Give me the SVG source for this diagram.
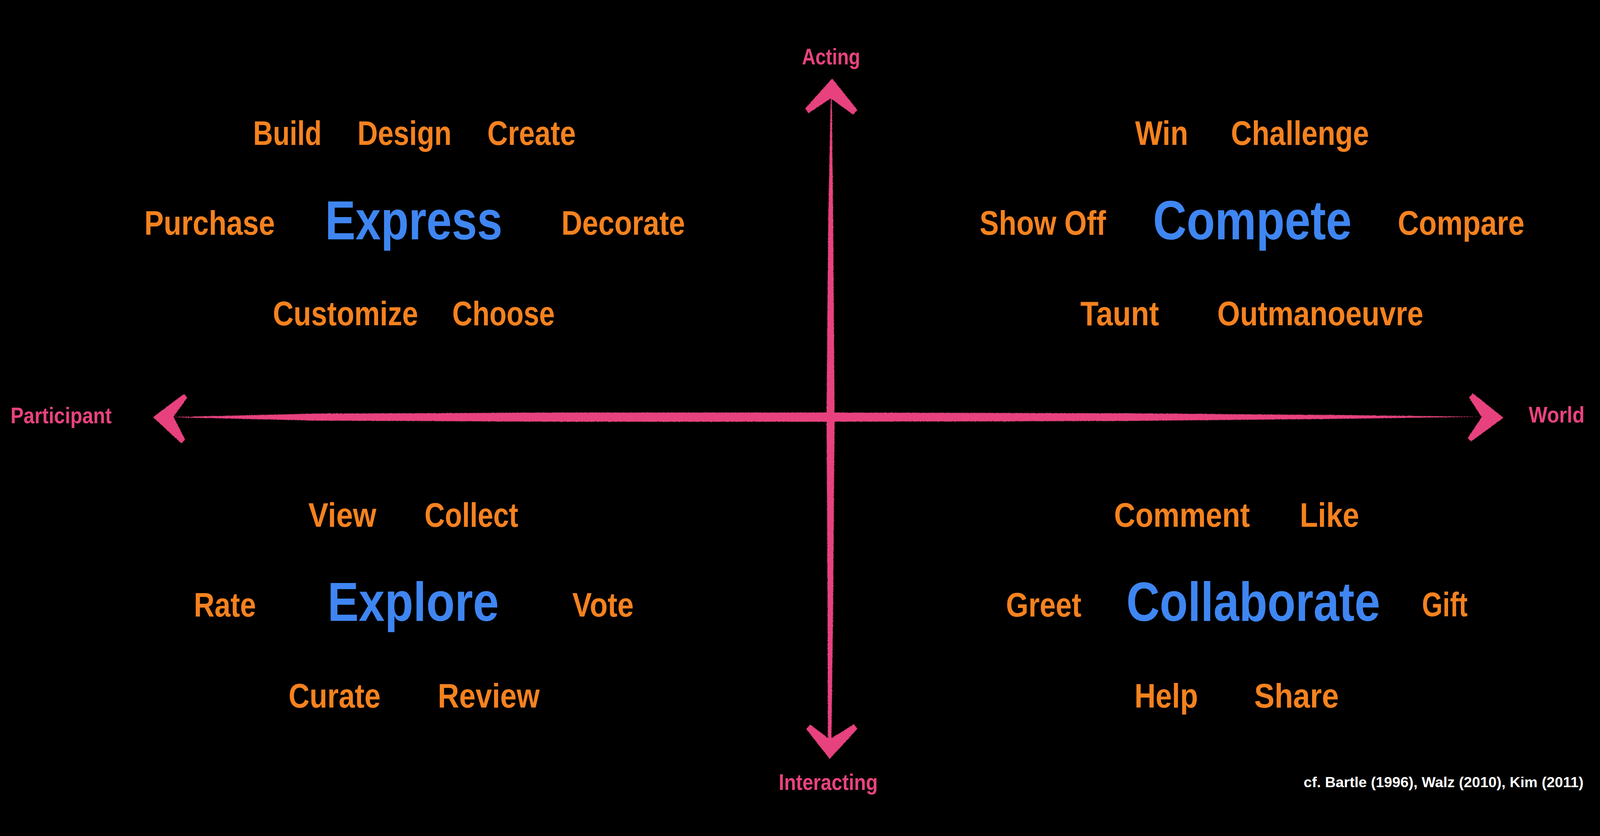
<svg xmlns="http://www.w3.org/2000/svg" width="4557" height="2141" viewBox="0 0 4557 2141">
<style>
svg{width:100vw;height:100vh;background:#000000}
text{font-family:"Liberation Sans",Arial,sans-serif;font-weight:bold}
.v{fill:#F5821F;font-size:97px}
.c{fill:#3F86F2;font-size:156px}
.a{fill:#E8437E;font-size:64px}
.ref{fill:#FFFFFF;font-size:42px}
.ax{fill:#E8437E}
</style>
<defs>
  <filter id="chalk" x="-5%" y="-5%" width="110%" height="110%">
    <feTurbulence type="fractalNoise" baseFrequency="0.6" numOctaves="2" seed="3" result="n"/>
    <feDisplacementMap in="SourceGraphic" in2="n" scale="5" xChannelSelector="R" yChannelSelector="G"/>
  </filter>
</defs>
<rect x="0" y="0" width="4557" height="2141" fill="#000000"/>
<g id="connectors" filter="url(#chalk)">
  <g id="axis-horizontal">
    <polygon class="ax" points="480,1068 900,1058 1600,1055 2365,1055 3200,1057 3800,1062 4225,1067 3800,1073 3200,1079 2365,1081 1600,1081 900,1078"/>
    <polygon class="ax" points="436,1068 524,1002 533,1013 494,1067 527,1131 517,1143"/>
    <polygon class="ax" points="4282,1070 4190,1137 4180,1128 4220,1068 4184,1012 4195,1000"/>
  </g>
  <g id="axis-vertical">
    <polygon class="ax" points="2366,160 2359,500 2354,1067 2357,1600 2358,1990 2368,1990 2373,1600 2377,1067 2373,500 2369,160"/>
    <polygon class="ax" points="2370,103 2442,193 2430,206 2366,160 2303,202 2293,189"/>
    <polygon class="ax" points="2363,2042 2296,1956 2308,1944 2363,1986 2432,1943 2442,1956"/>
  </g>
</g>
<g id="label-acting"><text class="a" x="2284" y="63" textLength="166" lengthAdjust="spacingAndGlyphs">Acting</text></g>
<g id="label-interacting"><text class="a" x="2218" y="2130" textLength="282" lengthAdjust="spacingAndGlyphs">Interacting</text></g>
<g id="label-participant"><text class="a" x="30" y="1085" textLength="288" lengthAdjust="spacingAndGlyphs">Participant</text></g>
<g id="label-world"><text class="a" x="4354" y="1083" textLength="159" lengthAdjust="spacingAndGlyphs">World</text></g>

<g id="node-build"><text class="v" x="721" y="292" textLength="195" lengthAdjust="spacingAndGlyphs">Build</text></g>
<g id="node-design"><text class="v" x="1018" y="292" textLength="268" lengthAdjust="spacingAndGlyphs">Design</text></g>
<g id="node-create"><text class="v" x="1388" y="292" textLength="252" lengthAdjust="spacingAndGlyphs">Create</text></g>
<g id="node-purchase"><text class="v" x="411" y="548" textLength="372" lengthAdjust="spacingAndGlyphs">Purchase</text></g>
<g id="node-express"><text class="c" x="926" y="562" textLength="505" lengthAdjust="spacingAndGlyphs">Express</text></g>
<g id="node-decorate"><text class="v" x="1599" y="548" textLength="352" lengthAdjust="spacingAndGlyphs">Decorate</text></g>
<g id="node-customize"><text class="v" x="777" y="806" textLength="414" lengthAdjust="spacingAndGlyphs">Customize</text></g>
<g id="node-choose"><text class="v" x="1288" y="806" textLength="292" lengthAdjust="spacingAndGlyphs">Choose</text></g>

<g id="node-win"><text class="v" x="3233" y="292" textLength="151" lengthAdjust="spacingAndGlyphs">Win</text></g>
<g id="node-challenge"><text class="v" x="3506" y="292" textLength="393" lengthAdjust="spacingAndGlyphs">Challenge</text></g>
<g id="node-showoff"><text class="v" x="2790" y="548" textLength="360" lengthAdjust="spacingAndGlyphs">Show Off</text></g>
<g id="node-compete"><text class="c" x="3284" y="562" textLength="566" lengthAdjust="spacingAndGlyphs">Compete</text></g>
<g id="node-compare"><text class="v" x="3981" y="548" textLength="361" lengthAdjust="spacingAndGlyphs">Compare</text></g>
<g id="node-taunt"><text class="v" x="3077" y="806" textLength="224" lengthAdjust="spacingAndGlyphs">Taunt</text></g>
<g id="node-outmanoeuvre"><text class="v" x="3467" y="806" textLength="587" lengthAdjust="spacingAndGlyphs">Outmanoeuvre</text></g>

<g id="node-view"><text class="v" x="878" y="1380" textLength="194" lengthAdjust="spacingAndGlyphs">View</text></g>
<g id="node-collect"><text class="v" x="1209" y="1380" textLength="267" lengthAdjust="spacingAndGlyphs">Collect</text></g>
<g id="node-rate"><text class="v" x="552" y="1636" textLength="177" lengthAdjust="spacingAndGlyphs">Rate</text></g>
<g id="node-explore"><text class="c" x="933" y="1648" textLength="488" lengthAdjust="spacingAndGlyphs">Explore</text></g>
<g id="node-vote"><text class="v" x="1630" y="1636" textLength="175" lengthAdjust="spacingAndGlyphs">Vote</text></g>
<g id="node-curate"><text class="v" x="822" y="1895" textLength="262" lengthAdjust="spacingAndGlyphs">Curate</text></g>
<g id="node-review"><text class="v" x="1247" y="1895" textLength="290" lengthAdjust="spacingAndGlyphs">Review</text></g>

<g id="node-comment"><text class="v" x="3173" y="1380" textLength="387" lengthAdjust="spacingAndGlyphs">Comment</text></g>
<g id="node-like"><text class="v" x="3702" y="1380" textLength="169" lengthAdjust="spacingAndGlyphs">Like</text></g>
<g id="node-greet"><text class="v" x="2865" y="1636" textLength="215" lengthAdjust="spacingAndGlyphs">Greet</text></g>
<g id="node-collaborate"><text class="c" x="3208" y="1648" textLength="723" lengthAdjust="spacingAndGlyphs">Collaborate</text></g>
<g id="node-gift"><text class="v" x="4050" y="1635" textLength="130" lengthAdjust="spacingAndGlyphs">Gift</text></g>
<g id="node-help"><text class="v" x="3231" y="1895" textLength="181" lengthAdjust="spacingAndGlyphs">Help</text></g>
<g id="node-share"><text class="v" x="3572" y="1895" textLength="241" lengthAdjust="spacingAndGlyphs">Share</text></g>

<g id="citation"><text class="ref" x="3713" y="2122" textLength="797" lengthAdjust="spacingAndGlyphs">cf. Bartle (1996), Walz (2010), Kim (2011)</text></g>
</svg>
